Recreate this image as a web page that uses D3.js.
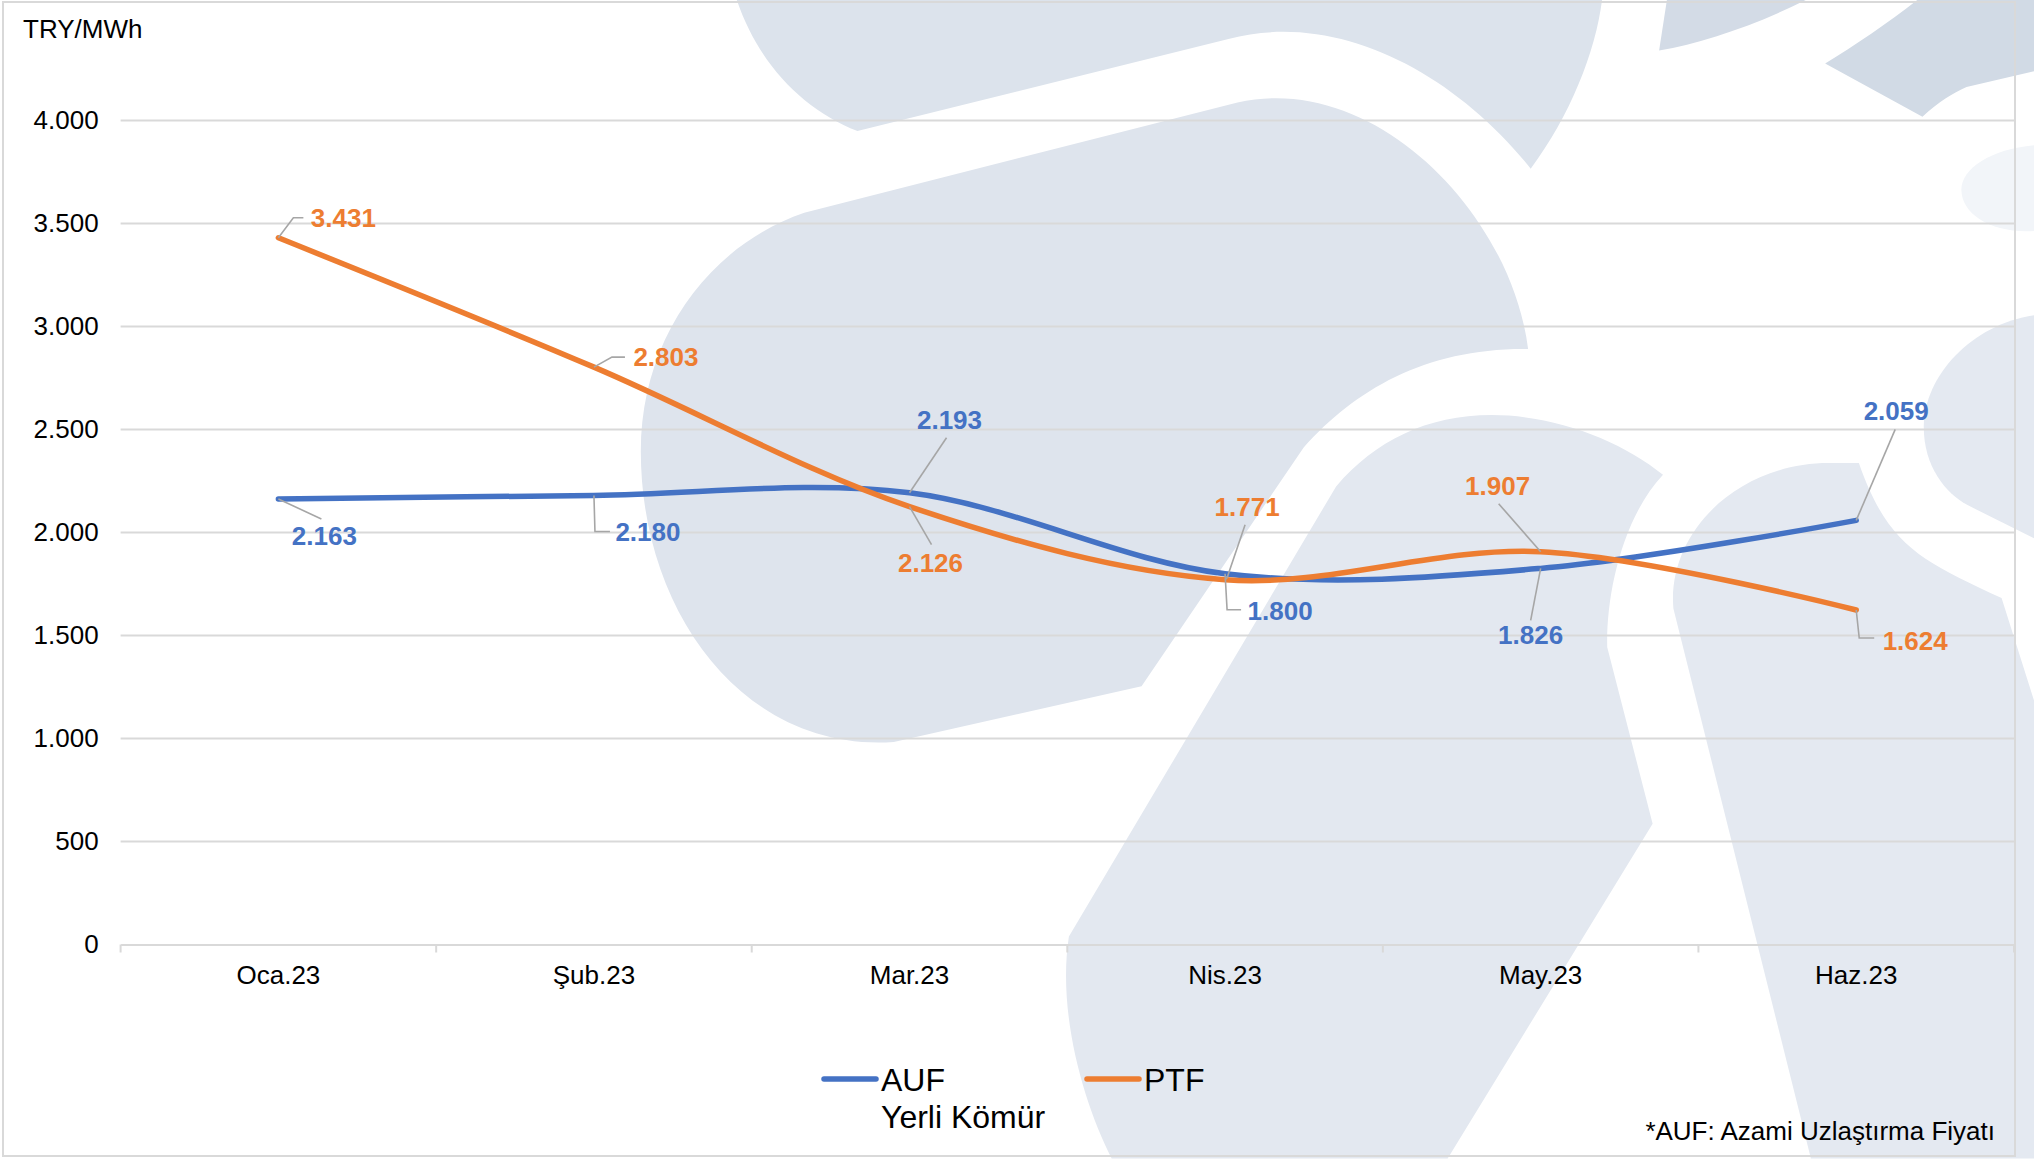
<!DOCTYPE html>
<html>
<head>
<meta charset="utf-8">
<script src="https://cdn.jsdelivr.net/npm/d3@7"></script>
<style>
  body { margin: 0; background: #fff; }
  svg { display: block; font-family: "Liberation Sans", Arial, sans-serif; }
</style>
</head>
<body>
<svg id="chart" width="2034" height="1159"></svg>
<script>
// data
var months = ["Oca.23", "Şub.23", "Mar.23", "Nis.23", "May.23", "Haz.23"];
var aufValues = [2163, 2180, 2193, 1800, 1826, 2059];
var ptfValues = [3431, 2803, 2126, 1771, 1907, 1624];
var yTicks = [0, 500, 1000, 1500, 2000, 2500, 3000, 3500, 4000];

// label placement relative to the point: text centre, leader path
var aufLabelPos = [
  { t: [46, 37], l: [[43, 20]] },
  { t: [54, 37], l: [[1, 36], [16, 36]] },
  { t: [40, -73], l: [[37, -55]] },
  { t: [55, 37], l: [[2, 36], [16, 36]] },
  { t: [-10, 67], l: [[-10, 52]] },
  { t: [40, -109], l: [[39, -91]] }
];
var ptfLabelPos = [
  { t: [65, -20], l: [[15, -20], [25, -20]] },
  { t: [72, -10], l: [[18, -10], [31, -10]] },
  { t: [21, 56], l: [[22, 38]] },
  { t: [22, -73], l: [[2, -2], [20, -55]] },
  { t: [-43, -66], l: [[-42, -48]] },
  { t: [59, 31], l: [[3, 28], [18, 28]] }
];

var blue = "#4472C4", orange = "#ED7D31";
var fmt = function (v) { return d3.format(",")(v).replace(/,/g, "."); };

var svg = d3.select("#chart");
var margin = { top: 120.6, right: 20, bottom: 214.5, left: 120.6 };
var w = 2014 - margin.left, h = 944.5 - margin.top;

// watermark shapes behind the chart (drawn in the small-picture units)
var deco = svg.append("g").attr("transform", "scale(1.2972)");
var shapes = [
  ["M568,0 C585,50 620,85 661,101 L947,30 C1030,8 1120,55 1180,130 C1210,90 1230,40 1235,0 Z", "#DCE3EC"],
  ["M620,164 L954,79 C1060,55 1165,165 1178,269 C1100,268 1045,300 1005,345 L880,529 L689,572 C572,580 494,470 494,348 C494,262 545,190 620,164 Z", "#DEE4ED"],
  ["M1282,366 C1250,400 1238,460 1239,499 L1274,635 L1116,893 L857,893 C835,850 815,780 824,722 L1030,375 C1060,340 1100,320 1150,320 C1200,320 1250,340 1282,366 Z", "#E3E8F0"],
  ["M1433,357 C1455,420 1480,432 1543,461 L1568,540 L1568,893 L1396,893 L1290,469 C1285,410 1340,357 1410,357 Z", "#E4E9F1"],
  ["M1279,39 L1285,0 L1392,0 C1352,20 1312,33 1279,39 Z", "#D3DBE6"],
  ["M1407,49 L1482,90 C1495,78 1505,72 1516,67 L1568,55 L1568,0 L1478,0 C1455,18 1430,35 1407,49 Z", "#D1DAE5"],
  ["M1568,112 C1535,115 1512,130 1512,146 C1512,165 1535,180 1568,178 Z", "#F2F5F9"],
  ["M1568,243 C1520,250 1483,290 1483,329 C1483,360 1500,380 1516,389 L1568,415 Z", "#E4E9F1"]
];
deco.selectAll("path").data(shapes).enter().append("path")
  .attr("d", function (d) { return d[0]; })
  .attr("fill", function (d) { return d[1]; });

// frame
svg.append("rect").attr("x", 3).attr("y", 2).attr("width", 2012).attr("height", 1154)
  .attr("fill", "none").attr("stroke", "#D9D9D9").attr("stroke-width", 2);

var g = svg.append("g").attr("transform", "translate(" + margin.left + "," + margin.top + ")");

var x = d3.scaleBand().domain(months).range([0, w]).padding(0);
var y = d3.scaleLinear().domain([0, 4000]).range([h, 0]);
var cx = function (i) { return x(months[i]) + x.bandwidth() / 2; };

// gridlines
g.selectAll(".grid").data(yTicks.slice(1)).enter().append("line")
  .attr("x1", 0).attr("x2", w)
  .attr("y1", function (d) { return y(d); }).attr("y2", function (d) { return y(d); })
  .attr("stroke", "#D9D9D9").attr("stroke-width", 2);

// y axis labels
var yAxis = g.append("g").call(d3.axisLeft(y).tickValues(yTicks).tickSize(0).tickPadding(22).tickFormat(fmt));
yAxis.select(".domain").remove();
yAxis.selectAll("text").attr("font-size", 26).attr("fill", "#000")
  .attr("font-family", "Liberation Sans, Arial, sans-serif");

// x axis
var xAxis = g.append("g").attr("transform", "translate(0," + h + ")")
  .call(d3.axisBottom(x).tickSize(0).tickPadding(21));
xAxis.select(".domain").attr("stroke", "#D9D9D9").attr("stroke-width", 2);
xAxis.selectAll("text").attr("font-size", 26).attr("fill", "#000")
  .attr("font-family", "Liberation Sans, Arial, sans-serif");
var edges = months.map(function (m) { return x(m); }).concat([w]);
g.selectAll(".xt").data(edges).enter().append("line")
  .attr("x1", function (d) { return d; }).attr("x2", function (d) { return d; })
  .attr("y1", h).attr("y2", h + 8)
  .attr("stroke", "#D9D9D9").attr("stroke-width", 2);

// lines
var line = d3.line()
  .x(function (d, i) { return cx(i); })
  .y(function (d) { return y(d); })
  .curve(d3.curveCatmullRom.alpha(0));

var series = [
  { vals: aufValues, color: blue, pos: aufLabelPos },
  { vals: ptfValues, color: orange, pos: ptfLabelPos }
];

series.forEach(function (s) {
  g.append("path").attr("d", line(s.vals))
    .attr("fill", "none").attr("stroke", s.color)
    .attr("stroke-width", 5.5).attr("stroke-linecap", "round");
});

// data labels with leader lines
series.forEach(function (s) {
  s.vals.forEach(function (v, i) {
    var px = cx(i), py = y(v), p = s.pos[i];
    var pts = [[px, py]].concat(p.l.map(function (q) { return [px + q[0], py + q[1]]; }));
    g.append("path").attr("d", d3.line()(pts))
      .attr("fill", "none").attr("stroke", "#A6A6A6").attr("stroke-width", 1.6);
    g.append("text")
      .attr("x", px + p.t[0]).attr("y", py + p.t[1])
      .attr("text-anchor", "middle").attr("dominant-baseline", "central")
      .attr("font-size", 26).attr("font-weight", "bold").attr("fill", s.color)
      .text(fmt(v));
  });
});

// unit label
svg.append("text").attr("x", 23).attr("y", 29).attr("dominant-baseline", "central")
  .attr("font-size", 26).attr("fill", "#000").text("TRY/MWh");

// legend
var legend = svg.append("g");
var legendItems = [
  { x: 824, color: blue, lines: ["AUF", "Yerli Kömür"] },
  { x: 1087, color: orange, lines: ["PTF"] }
];
legendItems.forEach(function (d) {
  legend.append("line").attr("x1", d.x).attr("x2", d.x + 52)
    .attr("y1", 1079).attr("y2", 1079)
    .attr("stroke", d.color).attr("stroke-width", 5.5).attr("stroke-linecap", "round");
  d.lines.forEach(function (t, k) {
    legend.append("text").attr("x", d.x + 57).attr("y", 1080 + k * 37)
      .attr("dominant-baseline", "central").attr("font-size", 32).attr("fill", "#000").text(t);
  });
});

// footnote
svg.append("text").attr("x", 1995).attr("y", 1131).attr("text-anchor", "end")
  .attr("dominant-baseline", "central").attr("font-size", 26).attr("fill", "#000")
  .text("*AUF: Azami Uzlaştırma Fiyatı");
</script>
</body>
</html>
